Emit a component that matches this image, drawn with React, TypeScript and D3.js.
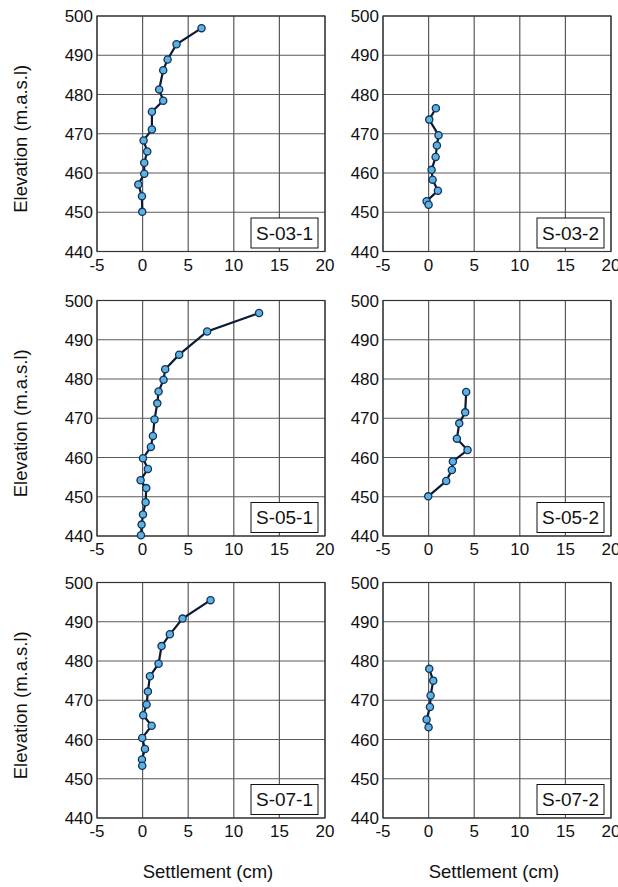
import React from "react";
import * as d3 from "d3";

// settlement (cm) vs elevation (m.a.s.l) for each survey line
const s031Settle = [6.46, 3.72, 2.74, 2.26, 1.82, 2.26, 1.02, 1.02, 0.11, 0.51, 0.18, 0.18, -0.47, -0.07, -0.04];
const s031Elev = [496.9, 492.8, 488.9, 486.2, 481.3, 478.4, 475.6, 471.1, 468.3, 465.5, 462.6, 459.8, 457.1, 454.1, 450.1];

const s032Settle = [0.8, 0.07, 1.09, 0.91, 0.77, 0.33, 0.44, 1.02, -0.22, 0];
const s032Elev = [476.5, 473.6, 469.6, 467.0, 464.1, 460.8, 458.3, 455.5, 452.8, 451.9];

const s051Settle = [12.77, 7.08, 4.01, 2.48, 2.3, 1.75, 1.61, 1.31, 1.13, 0.91, 0.04, 0.58, -0.22, 0.4, 0.33, 0.04, -0.11, -0.18];
const s051Elev = [496.8, 492.1, 486.2, 482.5, 479.8, 476.8, 473.8, 469.7, 465.5, 462.7, 459.8, 457.1, 454.2, 452.2, 448.6, 445.5, 442.9, 440.2];

const s052Settle = [4.12, 4.01, 3.36, 3.1, 4.27, 2.66, 2.55, 1.93, -0.04];
const s052Elev = [476.7, 471.5, 468.7, 464.8, 461.9, 459.0, 456.8, 454.0, 450.1];

const s071Settle = [7.45, 4.38, 2.99, 2.08, 1.75, 0.8, 0.58, 0.44, 0.07, 0.99, -0.04, 0.26, -0.07, -0.04];
const s071Elev = [495.5, 490.8, 486.8, 483.8, 479.3, 476.1, 472.2, 468.9, 466.2, 463.5, 460.4, 457.6, 454.9, 453.3];

const s072Settle = [0.07, 0.51, 0.22, 0.15, -0.22, 0];
const s072Elev = [478.0, 475.0, 471.2, 468.3, 465.1, 463.1];

const panelNames = ["S-03-1", "S-03-2", "S-05-1", "S-05-2", "S-07-1", "S-07-2"];
const panelSettle = [s031Settle, s032Settle, s051Settle, s052Settle, s071Settle, s072Settle];
const panelElev = [s031Elev, s032Elev, s051Elev, s052Elev, s071Elev, s072Elev];

const xTicks = [-5, 0, 5, 10, 15, 20];
const yTicks = [440, 450, 460, 470, 480, 490, 500];

const width = 618;
const height = 887;
const colLeft = [97, 383];
const rowTop = [16, 300.5, 582.5];
const plotW = 228;
const plotH = 235.5;
const font = "'Liberation Sans', Arial, Helvetica, sans-serif";

const Panel = ({ idx }: { idx: number }) => {
  const left = colLeft[idx % 2];
  const top = rowTop[Math.floor(idx / 2)];
  const x = d3.scaleLinear().domain([-5, 20]).range([left, left + plotW]);
  const y = d3.scaleLinear().domain([440, 500]).range([top + plotH, top]);
  const settle = panelSettle[idx];
  const elev = panelElev[idx];
  const pts: [number, number][] = settle.map((s, i) => [s, elev[i]]);
  const line = d3
    .line<[number, number]>()
    .x((d) => x(d[0]))
    .y((d) => y(d[1]));

  const boxW = 67;
  const boxH = 30;
  const boxX = left + plotW - 7 - boxW;
  const boxY = top + plotH - 3.5 - boxH;

  return (
    <g>
      <rect x={left} y={top} width={plotW} height={plotH} fill="#fff" />
      {xTicks.map((t) => (
        <line key={"gx" + t} x1={x(t)} x2={x(t)} y1={top} y2={top + plotH} stroke="#5a5a5a" strokeWidth={1.2} />
      ))}
      {yTicks.map((t) => (
        <line key={"gy" + t} x1={left} x2={left + plotW} y1={y(t)} y2={y(t)} stroke="#5a5a5a" strokeWidth={1.2} />
      ))}
      <rect x={left} y={top} width={plotW} height={plotH} fill="none" stroke="#333" strokeWidth={1.2} />
      {xTicks.map((t) => (
        <text key={"tx" + t} x={x(t)} y={top + plotH + 19} textAnchor="middle" fontSize={17} fontFamily={font} fill="#111">
          {t}
        </text>
      ))}
      {yTicks.map((t) => (
        <text key={"ty" + t} x={left - 4} y={y(t) + 6} textAnchor="end" fontSize={17} fontFamily={font} fill="#111">
          {t}
        </text>
      ))}
      <path d={line(pts) || ""} fill="none" stroke="#0b1a33" strokeWidth={2.2} />
      {pts.map((p, i) => (
        <circle key={i} cx={x(p[0])} cy={y(p[1])} r={3.6} fill="#5db2e0" stroke="#12325c" strokeWidth={1.3} />
      ))}
      <rect x={boxX} y={boxY} width={boxW} height={boxH} fill="#fff" stroke="#111" strokeWidth={1} />
      <text x={boxX + boxW / 2} y={boxY + boxH / 2 + 6.5} textAnchor="middle" fontSize={19} fontFamily={font} fill="#111">
        {panelNames[idx]}
      </text>
    </g>
  );
};

export default function App() {
  return (
    <svg
      width={width}
      height={height}
      viewBox={`0 0 ${width} ${height}`}
      style={{ position: "absolute", left: 0, top: 0, background: "#fff" }}
    >
      <rect width={width} height={height} fill="#fff" />
      {panelNames.map((_, i) => (
        <Panel key={i} idx={i} />
      ))}
      {rowTop.map((t, i) => (
        <text
          key={"yl" + i}
          transform={`translate(27, ${t + plotH / 2 + 5}) rotate(-90)`}
          textAnchor="middle"
          fontSize={18.5}
          fontFamily={font}
          fill="#111"
        >
          Elevation (m.a.s.l)
        </text>
      ))}
      {colLeft.map((l, i) => (
        <text key={"xl" + i} x={l + plotW / 2 - 3} y={878} textAnchor="middle" fontSize={18.5} fontFamily={font} fill="#111">
          Settlement (cm)
        </text>
      ))}
    </svg>
  );
}
